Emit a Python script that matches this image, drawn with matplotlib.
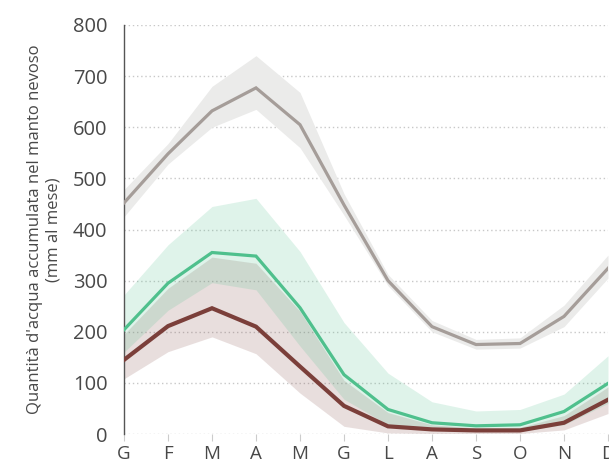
import matplotlib.pyplot as plt
import numpy as np

months = ["G", "F", "M", "A", "M", "G", "L", "A", "S", "O", "N", "D"]

# monthly snow-water accumulation (mm per month): mean line with lower/upper envelope
gray_mean = [452, 548, 632, 677, 605, 448, 300, 210, 175, 177, 230, 324]
gray_low = [425, 528, 600, 635, 560, 428, 290, 200, 166, 168, 210, 305]
gray_high = [478, 568, 680, 740, 668, 470, 312, 222, 185, 188, 252, 350]

green_mean = [204, 295, 355, 348, 247, 116, 48, 22, 16, 18, 44, 99]
green_low = [160, 242, 296, 282, 172, 68, 18, 8, 5, 6, 18, 60]
green_high = [272, 370, 445, 461, 357, 218, 119, 63, 45, 48, 78, 153]

brown_mean = [145, 211, 246, 210, 132, 55, 15, 9, 7, 7, 22, 67]
brown_low = [108, 161, 190, 157, 80, 15, 2, 1, 1, 1, 8, 40]
brown_high = [195, 285, 346, 334, 240, 105, 42, 18, 12, 13, 36, 92]

GRAY_LINE = "#a59d99"
GRAY_BAND = "#ebebea"
GREEN = "#4fc08d"
BROWN = "#7b3f3a"
TEXT = "#484848"

plt.rcParams["font.family"] = ["Open Sans", "DejaVu Sans"]

fig = plt.figure(figsize=(6.09, 4.66), dpi=100)
ax = fig.add_axes([124 / 609, 1 - 434 / 466, 484 / 609, 409 / 466])
x = np.arange(len(months))

ax.fill_between(x, gray_low, gray_high, color=GRAY_BAND, lw=0, zorder=1)
ax.fill_between(x, brown_low, brown_high, color=BROWN, alpha=0.17, lw=0, zorder=2)
ax.fill_between(x, green_low, green_high, color=GREEN, alpha=0.18, lw=0, zorder=2)

ax.plot(x, gray_mean, color=GRAY_LINE, lw=2.3, zorder=4, solid_joinstyle="miter")
ax.plot(x, green_mean, color=GREEN, lw=2.3, zorder=5, solid_joinstyle="miter")
ax.plot(x, brown_mean, color=BROWN, lw=3.0, zorder=6, solid_joinstyle="miter")

ax.set_xlim(0, 11)
ax.set_ylim(0, 800)
ax.set_yticks(np.arange(0, 801, 100))
ax.set_xticks(x)
ax.set_xticklabels(months)

for v in np.arange(0, 801, 100):
    ax.axhline(v, color="#c8c8c8", lw=1.0, ls=(0, (1, 2)), zorder=0)

for side in ("top", "right", "bottom"):
    ax.spines[side].set_visible(False)
ax.spines["left"].set_color("#555555")
ax.spines["left"].set_linewidth(1.0)

ax.tick_params(axis="y", length=0, pad=12, labelsize=14.5, labelcolor=TEXT)
ax.tick_params(axis="x", length=5, width=0.8, color="#cccccc", pad=3, labelsize=13.5, labelcolor=TEXT)

ax.set_ylabel("Quantità d'acqua accumulata nel manto nevoso\n(mm al mese)",
              fontsize=12, color=TEXT, labelpad=8, linespacing=1.2)

fig.savefig("out.png", dpi=100)
